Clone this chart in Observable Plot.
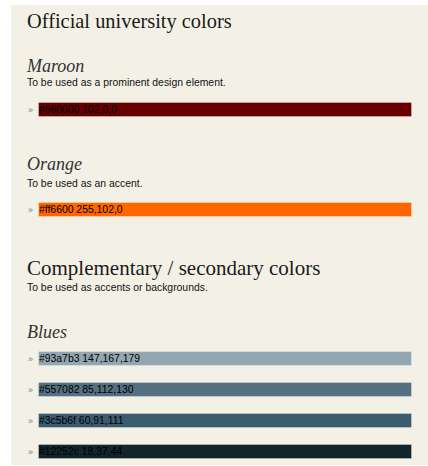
<!DOCTYPE html>
<html>
<head>
<meta charset="utf-8">
<script src="https://cdn.jsdelivr.net/npm/d3@7"></script>
<script src="https://cdn.jsdelivr.net/npm/@observablehq/plot@0.6"></script>
<style>
  html, body { margin: 0; padding: 0; background: #ffffff; }
  #page { position: absolute; left: 11px; top: 5px; width: 417px; height: 460px; background: #f3f1e6; overflow: hidden; }
  .t { position: absolute; left: 16px; white-space: nowrap; line-height: 1; margin: 0; }
  .h { font-family: "Liberation Serif", serif; color: #1a1a1a; font-weight: normal; }
  .sub { font-family: "Liberation Serif", serif; font-style: italic; color: #333; font-size: 18px; }
  .d { font-family: "Liberation Sans", Arial, sans-serif; font-size: 10.4px; color: #111; }
  .p { position: absolute; left: 0; }
  .p svg { display: block; background: transparent; }
</style>
</head>
<body>
<div id="page"></div>
<script>
// ---- data ----
const titles = ["Official university colors", "Complementary / secondary colors"];
const groupNames = ["Maroon", "Orange", "Blues"];
const descriptions = [
  "To be used as a prominent design element.",
  "To be used as an accent.",
  "To be used as accents or backgrounds."
];
const maroonHex = ["#660000"];
const maroonRGB = ["102,0,0"];
const orangeHex = ["#ff6600"];
const orangeRGB = ["255,102,0"];
const bluesHex = ["#93a7b3", "#557082", "#3c5b6f", "#12252c"];
const bluesRGB = ["147,167,179", "85,112,130", "60,91,111", "18,37,44"];

const page = document.getElementById("page");

function addText(cls, text, top, size) {
  const el = document.createElement("div");
  el.className = "t " + cls;
  el.textContent = text;
  el.style.top = top + "px";
  if (size) el.style.fontSize = size + "px";
  page.appendChild(el);
}

function swatches(hexes, rgbs, top, height, paddingInner) {
  const data = hexes.map((h, i) => ({hex: h, label: h + " " + rgbs[i]}));
  const chart = Plot.plot({
    width: 417,
    height,
    marginTop: 0,
    marginBottom: 0,
    marginLeft: 27,
    marginRight: 16,
    style: {background: "transparent", overflow: "visible"},
    x: {axis: null},
    y: {axis: null, domain: hexes, paddingInner, paddingOuter: 0},
    color: {type: "identity"},
    marks: [
      Plot.cell(data, {y: "hex", fill: "hex", stroke: "#ffffff", strokeOpacity: 0.3, inset: 0.5}),
      Plot.text(data, {
        y: "hex", text: "label", frameAnchor: "left", textAnchor: "start", dx: 0.5,
        fill: "#000", fontSize: 10.4, fontFamily: "Liberation Sans, Arial, sans-serif"
      }),
      Plot.text(data, {
        y: "hex", text: () => "»", frameAnchor: "left", textAnchor: "middle", dx: -8,
        fill: "#777", fontSize: 9, fontFamily: "Liberation Sans, Arial, sans-serif"
      })
    ]
  });
  const wrap = document.createElement("div");
  wrap.className = "p";
  wrap.style.top = top + "px";
  wrap.appendChild(chart);
  page.appendChild(wrap);
}

addText("h", titles[0], 5.6, 20.4);
addText("sub", groupNames[0], 52);
addText("d", descriptions[0], 72.6);
swatches(maroonHex, maroonRGB, 96.5, 15, 0);

addText("sub", groupNames[1], 150);
addText("d", descriptions[1], 174.4);
swatches(orangeHex, orangeRGB, 196.7, 15, 0);

addText("h", titles[1], 253.4, 21);
addText("d", descriptions[2], 278.1);
addText("sub", groupNames[2], 317.6);
swatches(bluesHex, bluesRGB, 345, 109, 0.53);
</script>
</body>
</html>
